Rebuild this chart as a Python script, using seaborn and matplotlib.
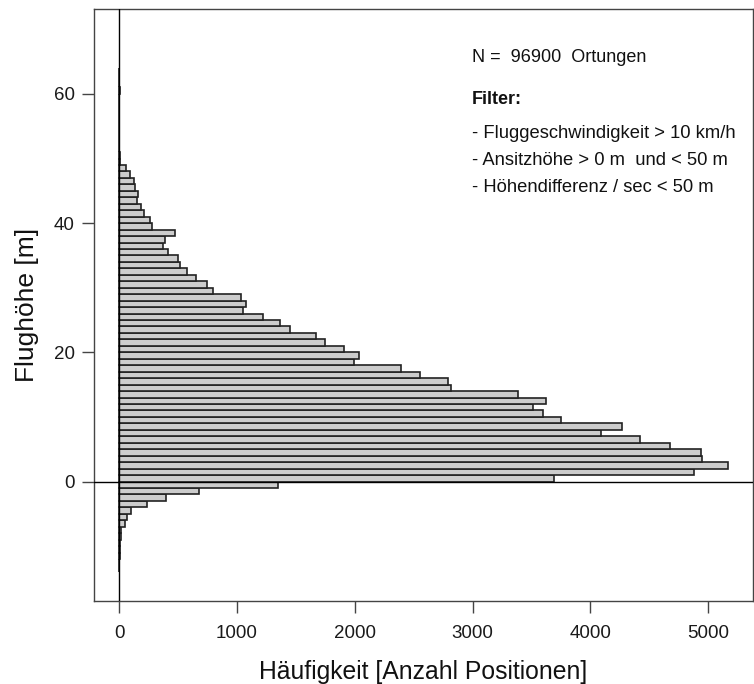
import numpy as np
import pandas as pd
import matplotlib
matplotlib.use("Agg")
import matplotlib.pyplot as plt
import seaborn as sns

# Data: flight height bins (lower edge, m) and counts
heights = list(range(-14, 64))
counts = [2, 3, 5, 6, 8, 20, 17, 48, 66, 100, 240, 396, 676, 1350,
          3690, 4875, 5170, 4945, 4940, 4675, 4420, 4090, 4270, 3750,
          3595, 3515, 3625, 3385, 2820, 2790, 2555, 2395, 1990, 2040,
          1910, 1750, 1670, 1450, 1366, 1218, 1053, 1073, 1036, 801,
          750, 656, 575, 515, 503, 413, 370, 393, 476, 280,
          260, 210, 190, 150, 161, 139, 127, 96, 57,
          5, 4, 3, 3, 2, 2, 1, 1, 0, 0, 0, 8, 2, 2, 2]
x_ticks = [0, 1000, 2000, 3000, 4000, 5000]
y_ticks = [0, 20, 40, 60]
info_lines = ["- Fluggeschwindigkeit > 10 km/h",
              "- Ansitzhöhe > 0 m  und < 50 m",
              "- Höhendifferenz / sec < 50 m"]

df = pd.DataFrame({"hoehe": [h + 0.5 for h in heights], "n": counts})

sns.set_theme(style="white")
plt.rcParams["font.family"] = ["Liberation Sans", "DejaVu Sans"]

fig = plt.figure(figsize=(7.54, 6.84), dpi=100)
ax = fig.add_axes([0.1243, 0.1213, 0.8745, 0.866])

sns.histplot(data=df, y="hoehe", weights="n",
             binwidth=1, binrange=(heights[0], heights[-1] + 1),
             color="#cccccc", edgecolor="#222222", linewidth=1.2,
             alpha=1.0, ax=ax)

ax.axvline(0, color="black", lw=1.0, zorder=3)
ax.axhline(0, color="black", lw=1.0, zorder=3)

ax.set_xlim(-215, 5380)
ax.set_ylim(-18.5, 73.2)
ax.set_xticks(x_ticks)
ax.set_yticks(y_ticks)
ax.tick_params(axis="both", which="both", length=8.5, width=1.0,
               color="#444444", labelsize=13.5, labelcolor="#1a1a1a",
               left=True, bottom=True)
ax.tick_params(axis="x", pad=9)
ax.tick_params(axis="y", pad=5)
for s in ax.spines.values():
    s.set_visible(True)
    s.set_color("#444444")
    s.set_linewidth(1.0)
ax.grid(False)

ax.set_xlabel("Häufigkeit [Anzahl Positionen]", fontsize=17.8, color="#111111", labelpad=13)
ax.set_ylabel("Flughöhe [m]", fontsize=19, color="#111111", labelpad=11)

ax.text(472 / 754, 1 - 57 / 684, "N =  96900  Ortungen", transform=fig.transFigure,
        fontsize=13, ha="left", va="center", color="#111111")
ax.text(472 / 754, 1 - 99 / 684, "Filter:", transform=fig.transFigure,
        fontsize=13, fontweight="bold", ha="left", va="center", color="#111111")
for i, line in enumerate(info_lines):
    ax.text(472 / 754, 1 - (133 + 27.5 * i) / 684, line, transform=fig.transFigure,
            fontsize=13.2, ha="left", va="center", color="#111111")

fig.savefig("out.png", dpi=100)
